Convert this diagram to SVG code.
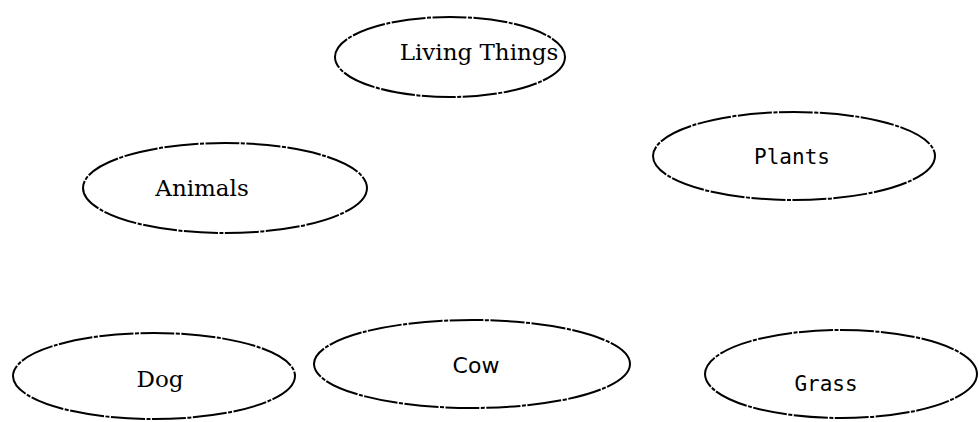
<svg xmlns="http://www.w3.org/2000/svg" width="979" height="422" viewBox="0 0 979 422">
<style>
.node ellipse{fill:none;stroke:#000;stroke-width:2;stroke-dasharray:34 1.5 4 1.5}
.serif{font-family:"DejaVu Serif","Liberation Serif",serif;font-size:23px;fill:#000;text-anchor:middle}
.sans{font-family:"DejaVu Sans","Liberation Sans",sans-serif;font-size:22px;fill:#000;text-anchor:middle}
.mono{font-family:"DejaVu Sans Mono","Liberation Mono",monospace;font-size:21px;fill:#000;text-anchor:middle}
</style>
<rect width="979" height="422" fill="#fff"/>
<g id="connectors"></g>
<g id="living-things" class="node">
<ellipse cx="450" cy="57" rx="115" ry="40"/>
<text class="serif" x="479" y="60">Living Things</text>
</g>
<g id="animals" class="node">
<ellipse cx="225" cy="188" rx="142" ry="45"/>
<text class="serif" x="202" y="196">Animals</text>
</g>
<g id="plants" class="node">
<ellipse cx="794" cy="156" rx="141" ry="44"/>
<text class="mono" x="792" y="164">Plants</text>
</g>
<g id="dog" class="node">
<ellipse cx="154" cy="376" rx="141" ry="43"/>
<text class="serif" x="160" y="387">Dog</text>
</g>
<g id="cow" class="node">
<ellipse cx="472" cy="364" rx="158" ry="44"/>
<text class="sans" x="476" y="373">Cow</text>
</g>
<g id="grass" class="node">
<ellipse cx="841" cy="374" rx="136" ry="44"/>
<text class="mono" x="826" y="391">Grass</text>
</g>
</svg>
